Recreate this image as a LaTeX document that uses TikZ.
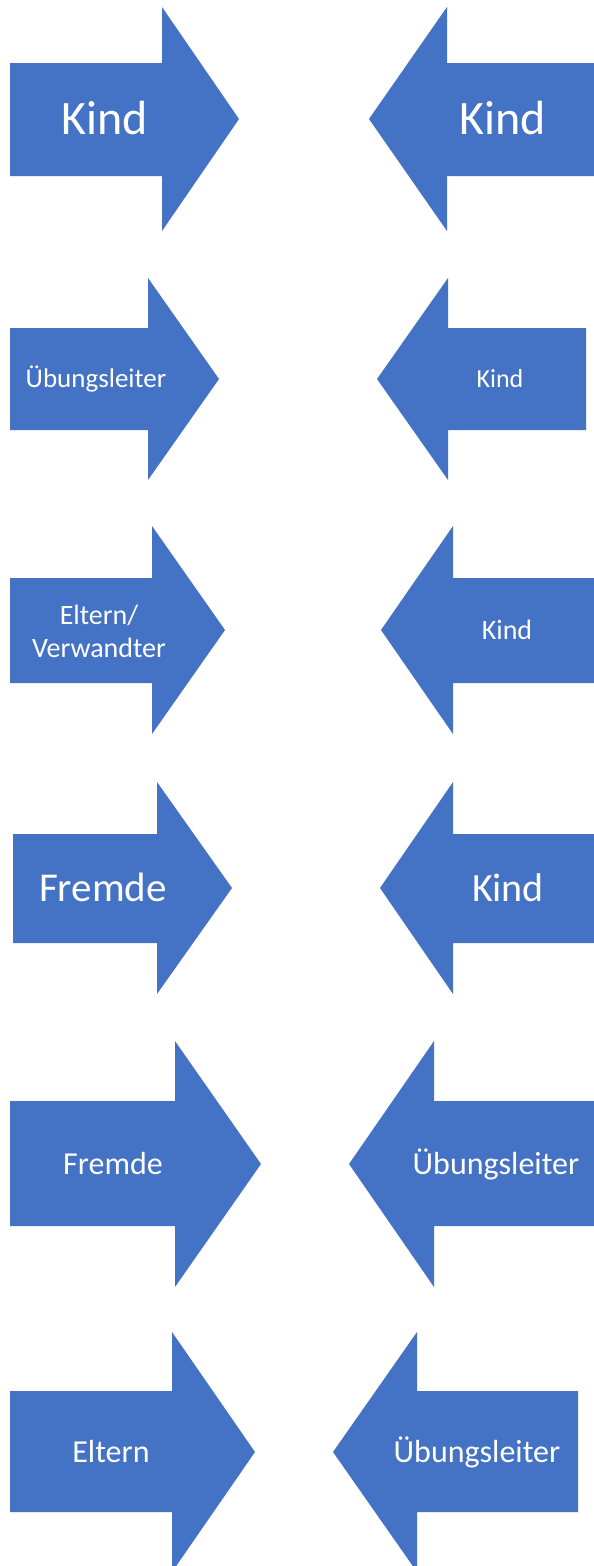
\documentclass[tikz,border=0pt]{standalone}
\usepackage{fontspec}
\setmainfont{Carlito}
\usepackage{tikz}
\definecolor{pfeilblau}{HTML}{4472C4}
\newcommand{\groesse}[1]{\fontsize{#1}{1.2\dimexpr#1pt\relax}\selectfont}
\tikzset{
  pfeil/.style={fill=pfeilblau, draw=none},
  beschr/.style={text=white, anchor=base, inner sep=0pt}
}
\begin{document}
\begin{tikzpicture}[x=1pt,y=-1pt]
        \useasboundingbox[fill=white] (0,0) rectangle (594,1566);

        % Reihe 1
        \fill[pfeil] (10,63) -- (162,63) -- (162,7) -- (239,119) -- (162,231) -- (162,176) -- (10,176) -- cycle;
        \fill[pfeil] (594,63) -- (447,63) -- (447,7) -- (369,119) -- (447,231) -- (447,176) -- (594,176) -- cycle;
        \node[beschr, font=\groesse{48}] (kindA) at (105,134) {Kind};
        \node[beschr, font=\groesse{48}] (kindB) at (503,134) {Kind};

        % Reihe 2
        \fill[pfeil] (10,328) -- (148,328) -- (148,278) -- (219,379) -- (148,480) -- (148,430) -- (10,430) -- cycle;
        \fill[pfeil] (586,328) -- (448,328) -- (448,278) -- (377,379) -- (448,480) -- (448,430) -- (586,430) -- cycle;
        \node[beschr, font=\groesse{27}] (leiterA) at (96,387) {Übungsleiter};
        \node[beschr, font=\groesse{26}] (kindC) at (500,387) {Kind};

        % Reihe 3
        \fill[pfeil] (10,578) -- (152,578) -- (152,526) -- (225,630) -- (152,734) -- (152,683) -- (10,683) -- cycle;
        \fill[pfeil] (594,578) -- (453,578) -- (453,526) -- (381,630) -- (453,734) -- (453,683) -- (594,683) -- cycle;
        \node[text=white, align=center, inner sep=0pt, font=\fontsize{28}{33}\selectfont] (eltern) at (99,631) {Eltern/\\Verwandter};
        \node[beschr, font=\groesse{28}] (kindD) at (507,639) {Kind};

        % Reihe 4
        \fill[pfeil] (13,834) -- (157,834) -- (157,782) -- (232,888) -- (157,994) -- (157,943) -- (13,943) -- cycle;
        \fill[pfeil] (594,834) -- (453,834) -- (453,782) -- (380,888) -- (453,994) -- (453,943) -- (594,943) -- cycle;
        \node[beschr, font=\groesse{41}] (fremdeA) at (103,901) {Fremde};
        \node[beschr, font=\groesse{40}] (kindE) at (508,901) {Kind};

        % Reihe 5
        \fill[pfeil] (10,1101) -- (175,1101) -- (175,1041) -- (261,1164) -- (175,1287) -- (175,1226) -- (10,1226) -- cycle;
        \fill[pfeil] (594,1101) -- (434,1101) -- (434,1041) -- (349,1164) -- (434,1287) -- (434,1226) -- (594,1226) -- cycle;
        \node[beschr, font=\groesse{32}] (fremdeB) at (113,1174) {Fremde};
        \node[beschr, font=\groesse{32}] (leiterB) at (496,1174) {Übungsleiter};

        % Reihe 6
        \fill[pfeil] (10,1391) -- (172,1391) -- (172,1332) -- (255,1452) -- (172,1572) -- (172,1512) -- (10,1512) -- cycle;
        \fill[pfeil] (578,1391) -- (417,1391) -- (417,1332) -- (333,1452) -- (417,1572) -- (417,1512) -- (578,1512) -- cycle;
        \node[beschr, font=\groesse{32}] (elternB) at (111,1462) {Eltern};
        \node[beschr, font=\groesse{32}] (leiterC) at (477,1462) {Übungsleiter};
\end{tikzpicture}
\end{document}
